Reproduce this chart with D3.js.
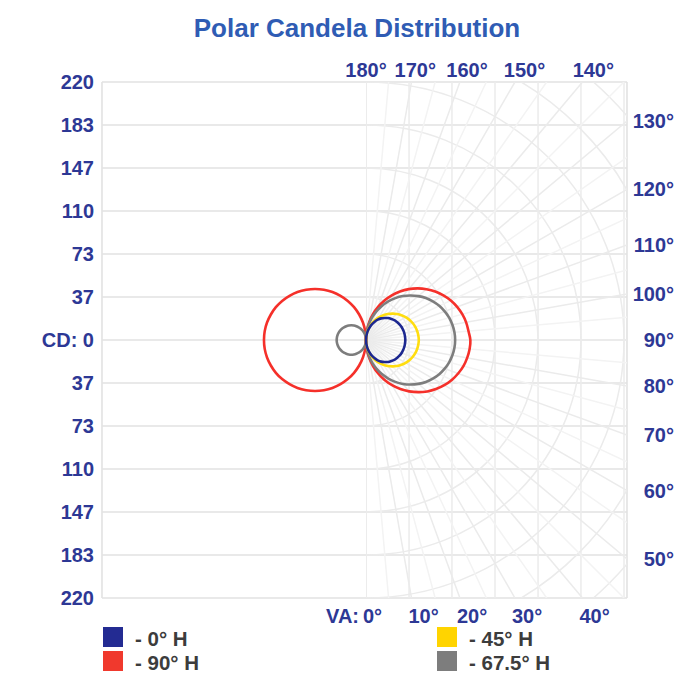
<!DOCTYPE html>
<html>
<head>
<meta charset="utf-8">
<title>Polar Candela Distribution</title>
<script src="https://cdn.jsdelivr.net/npm/d3@7"></script>
<style>
  body { margin: 0; background: #fff; }
  text { font-family: "Liberation Sans", Arial, sans-serif; font-weight: bold; }
  .lbl { fill: #2d3895; font-size: 20px; }
  .title { fill: #2f5cb4; font-size: 26px; }
  .leg { fill: #3c3c3c; font-size: 20.5px; }
  .grid { stroke: #e2e2e2; stroke-width: 1.6px; fill: none; }
  .pgrid { stroke: #ebebeb; stroke-width: 1.5px; fill: none; }
  .curve { fill: none; stroke-width: 2.6px; }
</style>
</head>
<body>
<div id="chart"></div>
<script>
// vertical angles (deg from nadir, 5 deg steps) and candela per plane
var vAngles = [0,5,10,15,20,25,30,35,40,45,50,55,60,65,70,75,80,85,90,
  95,100,105,110,115,120,125,130,135,140,145,150,155,160,165,170,175,180];
var cd0 = [0,3.5,7,10.5,14,17,20,22.5,24.5,26.5,28,29.5,30.5,31.5,32.3,32.8,33.2,33.4,33.5,
  33.4,33.2,32.8,32.3,31.5,30.5,29.5,28,26.5,24.5,22.5,20,17,14,10.5,7,3.5,0];
var cd45 = [0,3.9,7.8,11.6,15.4,19,22.5,25.8,28.9,31.8,34.5,36.9,39,40.8,42.3,43.5,44.3,44.8,45,
  44.8,44.3,43.5,42.3,40.8,39,36.9,34.5,31.8,28.9,25.8,22.5,19,15.4,11.6,7.8,3.9,0];
var cd675 = [0,6.6,13.2,19.7,26,32.1,38,43.6,48.9,53.7,58.2,62.3,65.8,68.9,71.4,73.4,74.8,75.7,76,
  75.7,74.8,73.4,71.4,68.9,65.8,62.3,58.2,53.7,48.9,43.6,38,32.1,26,19.7,13.2,6.6,0];
var cd675back = [0,2.2,4.3,6.5,8.6,10.6,12.5,14.3,16.1,17.7,19.2,20.5,21.7,22.7,23.5,24.1,24.6,24.9,25,
  24.9,24.6,24.1,23.5,22.7,21.7,20.5,19.2,17.7,16.1,14.3,12.5,10.6,8.6,6.5,4.3,2.2,0];
var cd90 = [0,7.8,15.5,23,30.4,37.6,44.5,51.1,57.2,62.9,68.2,72.9,77.1,80.7,83.6,86,87.6,88.7,89,
  87.7,86.7,85,82.7,79.8,76.2,72.1,67.4,62.2,56.6,50.5,44,37.2,30.1,22.8,15.3,7.7,0];
var cd90back = [0,7.6,15.1,22.5,29.8,36.8,43.5,49.9,55.9,61.5,66.6,71.3,75.3,78.9,81.8,84,85.7,86.7,87,
  86.7,85.7,84,81.8,78.9,75.3,71.3,66.6,61.5,55.9,49.9,43.5,36.8,29.8,22.5,15.1,7.6,0];

var cdTicks = [36.7, 73.3, 110, 146.7, 183.3, 220];
var cdLabels = ["37", "73", "110", "147", "183", "220"];
var angleTicks = [0,10,20,30,40,50,60,70,80,90,100,110,120,130,140,150,160,170,180];

var legendNames = ["- 0\u00b0 H", "- 90\u00b0 H", "- 45\u00b0 H", "- 67.5\u00b0 H"];
var legendColors = ["#232b92", "#f0392d", "#ffd400", "#7d7d7d"];

var width = 700, height = 675;
var cx = 366, cy = 340;
var box = {left: 102, right: 627, top: 82, bottom: 598};

var svg = d3.select("#chart").append("svg")
    .attr("width", width).attr("height", height);

var r = d3.scaleLinear().domain([0, 220]).range([0, 258]);
var y = d3.scaleLinear().domain([-220, 220]).range([cy + 258, cy - 258]);

svg.append("text").attr("class", "title")
    .attr("x", 357).attr("y", 37).attr("text-anchor", "middle")
    .text("Polar Candela Distribution");

// left horizontal grid
var hvals = [0].concat(cdTicks, cdTicks.map(function(d) { return -d; }));
svg.selectAll(".hl").data(hvals).enter().append("line")
    .attr("class", "grid")
    .attr("x1", box.left).attr("x2", box.right)
    .attr("y1", function(d) { return y(d); }).attr("y2", function(d) { return y(d); });

svg.append("line").attr("class", "grid")
    .attr("x1", box.left).attr("x2", box.left).attr("y1", box.top).attr("y2", box.bottom);
svg.append("line").attr("class", "grid")
    .attr("x1", box.right).attr("x2", box.right).attr("y1", box.top).attr("y2", box.bottom);

// right half polar grid
svg.append("clipPath").attr("id", "rclip").append("rect")
    .attr("x", cx).attr("y", box.top)
    .attr("width", box.right - cx).attr("height", box.bottom - box.top);
var pg = svg.append("g").attr("clip-path", "url(#rclip)");

pg.selectAll(".vl").data([0].concat(cdTicks)).enter().append("line")
    .attr("class", "pgrid")
    .attr("x1", function(d) { return cx + r(d); }).attr("x2", function(d) { return cx + r(d); })
    .attr("y1", box.top).attr("y2", box.bottom);

var rings = cdTicks.concat([256.7, 293.3]);
pg.selectAll(".ring").data(rings).enter().append("circle")
    .attr("class", "pgrid")
    .attr("cx", cx).attr("cy", cy).attr("r", function(d) { return r(d); });

function edgeHit(a) {
  var rad = a * Math.PI / 180, sx = Math.sin(rad), sy = Math.cos(rad);
  var t = Infinity, side = "";
  if (sx > 1e-6 && (box.right - cx) / sx < t) { t = (box.right - cx) / sx; side = "right"; }
  if (sy > 1e-6 && (box.bottom - cy) / sy < t) { t = (box.bottom - cy) / sy; side = "bottom"; }
  if (sy < -1e-6 && (cy - box.top) / -sy < t) { t = (cy - box.top) / -sy; side = "top"; }
  return {x: cx + t * sx, y: cy + t * sy, side: side};
}

var fine = d3.range(5, 180, 10);
pg.selectAll(".rl2").data(fine).enter().append("line")
    .attr("class", "pgrid").style("stroke", "#f3f3f3")
    .attr("x1", cx).attr("y1", cy)
    .attr("x2", function(a) { return edgeHit(a).x; })
    .attr("y2", function(a) { return edgeHit(a).y; });
pg.selectAll(".rl").data(angleTicks).enter().append("line")
    .attr("class", "pgrid")
    .attr("x1", cx).attr("y1", cy)
    .attr("x2", function(a) { return edgeHit(a).x; })
    .attr("y2", function(a) { return edgeHit(a).y; });

// angle labels
angleTicks.forEach(function(a) {
  var h = edgeHit(a), t = svg.append("text").attr("class", "lbl"), s = a + "\u00b0";
  if (h.side == "bottom") {
    t.attr("x", h.x - 3).attr("y", 623).text(s);
  } else if (h.side == "right") {
    t.attr("x", 674).attr("y", h.y + 7).attr("text-anchor", "end").text(s);
  } else {
    var off = 11 * Math.sin((180 - a) * 2 * Math.PI / 180);
    t.attr("x", h.x + off).attr("y", 77).attr("text-anchor", "middle").text(s);
  }
});
svg.append("text").attr("class", "lbl")
    .attr("x", cx - 7).attr("y", 623).attr("text-anchor", "end").text("VA:");

// candela labels
cdTicks.forEach(function(v, i) {
  [v, -v].forEach(function(d) {
    svg.append("text").attr("class", "lbl")
      .attr("x", 94).attr("y", y(d) + 7).attr("text-anchor", "end").text(cdLabels[i]);
  });
});
svg.append("text").attr("class", "lbl")
    .attr("x", 94).attr("y", y(0) + 7).attr("text-anchor", "end").text("CD: 0");

// curves
var line = d3.line()
    .x(function(d) { return cx + d.s * r(d.v) * Math.sin(d.a * Math.PI / 180); })
    .y(function(d) { return cy + r(d.v) * Math.cos(d.a * Math.PI / 180); })
    .curve(d3.curveCatmullRom);

function pts(vals, s) {
  return vAngles.map(function(a, i) { return {a: a, v: vals[i], s: s}; });
}

var curves = [
  {vals: cd90back, s: -1, color: "#f5302a"},
  {vals: cd675back, s: -1, color: "#7d7d7d"},
  {vals: cd90, s: 1, color: "#f5302a"},
  {vals: cd675, s: 1, color: "#7d7d7d"},
  {vals: cd45, s: 1, color: "#ffdd10"},
  {vals: cd0, s: 1, color: "#1d2890"}
];
svg.selectAll(".curve").data(curves).enter().append("path")
    .attr("class", "curve")
    .attr("stroke", function(d) { return d.color; })
    .attr("d", function(d) { return line(pts(d.vals, d.s)); });

// legend
var legPos = [[103, 627], [103, 651], [437, 627], [437, 651]];
legendNames.forEach(function(n, i) {
  svg.append("rect").attr("x", legPos[i][0]).attr("y", legPos[i][1])
    .attr("width", 20).attr("height", 20).attr("fill", legendColors[i]);
  svg.append("text").attr("class", "leg")
    .attr("x", legPos[i][0] + 32).attr("y", legPos[i][1] + 19).text(n);
});
</script>
</body>
</html>
